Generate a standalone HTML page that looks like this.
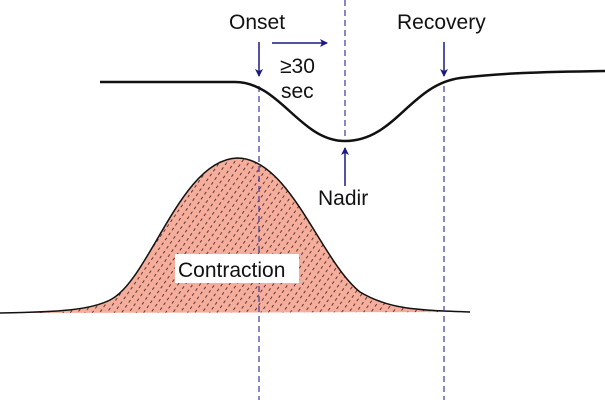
<!DOCTYPE html>
<html><head><style>body{margin:0;background:#fff}svg{display:block}text{font-family:"Liberation Sans",sans-serif;fill:#111}</style></head><body>
<svg width="605" height="400" viewBox="0 0 605 400" xmlns="http://www.w3.org/2000/svg">
<defs>
<pattern id="h" width="6" height="6" patternUnits="userSpaceOnUse" patternTransform="rotate(-55)">
<rect width="6" height="6" fill="#f5ad9c"/>
<line x1="0" y1="3" x2="3" y2="3" stroke="#4a2a2a" stroke-width="0.9"/>
</pattern>
<marker id="a" markerWidth="8" markerHeight="8" refX="7" refY="4" orient="auto" markerUnits="userSpaceOnUse"><path d="M0,0 L8,4 L0,8 L2,4 Z" fill="#1a1a80"/></marker>
</defs>
<path d="M0,313 C60,312 90,310 110,300 C150,280 180,160 237,158 C290,158 320,260 360,292 C390,310 420,310 470,312 Z" fill="url(#h)"/>
<path d="M0,313 C60,312 90,310 110,300 C150,280 180,160 237,158 C290,158 320,260 360,292 C390,310 420,310 470,312" fill="none" stroke="#111" stroke-width="1.5"/>
<g stroke="#3a3aa0" stroke-width="1.2" stroke-dasharray="6,4">
<line x1="259" y1="86" x2="259" y2="400"/>
<line x1="345" y1="0" x2="345" y2="136"/>
<line x1="444" y1="86" x2="444" y2="400"/>
</g>
<path d="M100,82 L235,82 C280,82 300,141 345,141 C395,141 410,85 460,78 C500,73 540,72 605,71" fill="none" stroke="#111" stroke-width="2.5"/>
<g stroke="#1a1a80" stroke-width="1.5">
<line x1="259" y1="42" x2="259" y2="76" marker-end="url(#a)"/>
<line x1="444" y1="42" x2="444" y2="76" marker-end="url(#a)"/>
<line x1="272" y1="43" x2="327" y2="43" marker-end="url(#a)"/>
<line x1="345" y1="186" x2="345" y2="148" marker-end="url(#a)"/>
</g>
<text x="229" y="29" font-size="21">Onset</text>
<text x="397" y="29" font-size="21">Recovery</text>
<text x="280" y="73" font-size="21">≥30</text>
<text x="281" y="98" font-size="21">sec</text>
<text x="318" y="205" font-size="21">Nadir</text>
<rect x="175" y="254" width="124" height="29" fill="#fff"/>
<text x="178" y="277" font-size="21">Contraction</text>
</svg>
</body></html>
